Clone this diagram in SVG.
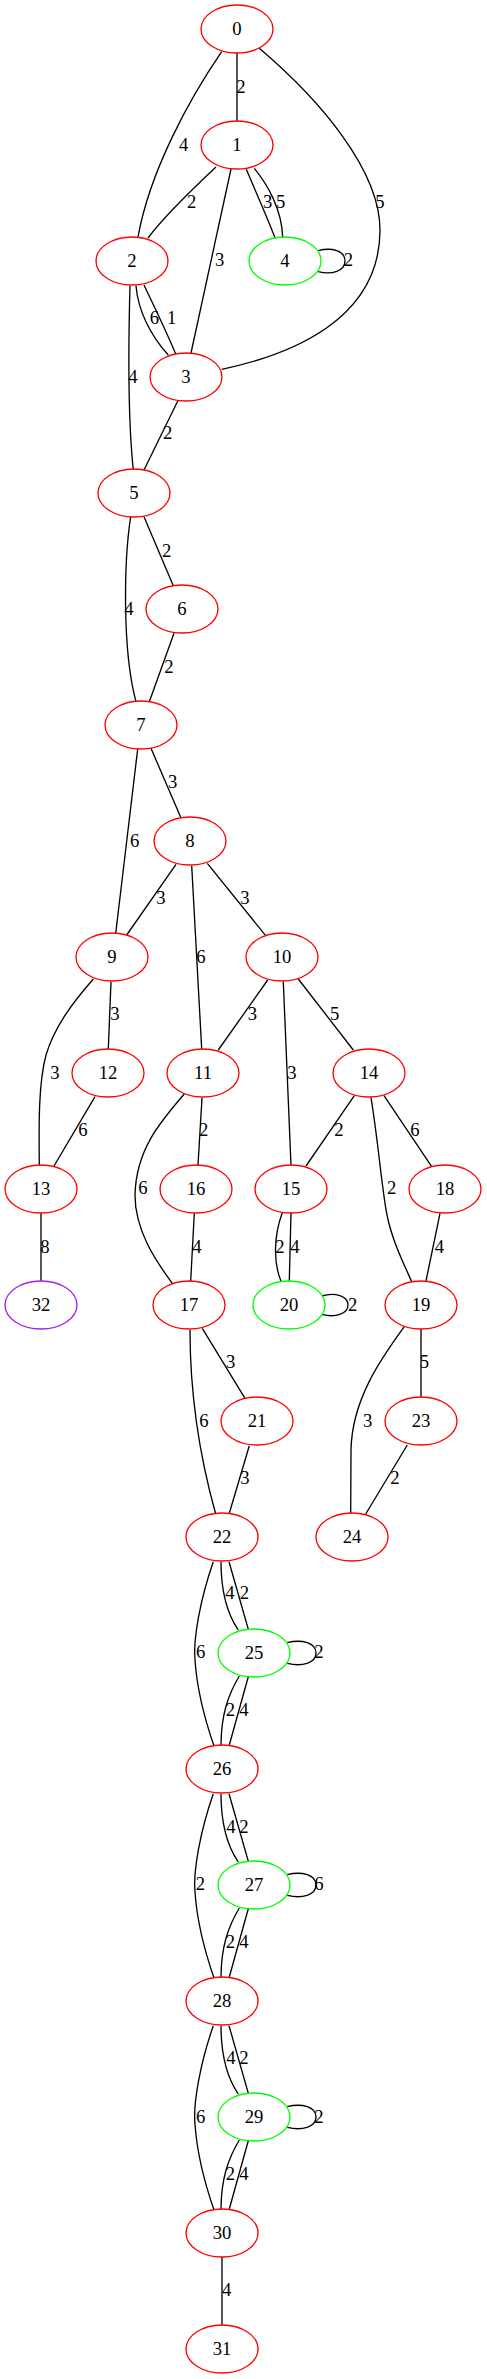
<svg xmlns="http://www.w3.org/2000/svg" width="487" height="2379" viewBox="0 0 487 2379">
<style>
text{font-family:"Liberation Serif","Times New Roman",serif;font-size:18.67px;text-anchor:middle;fill:#000}
.n ellipse{fill:none;stroke:#ff0000;stroke-width:1.33}
.g ellipse{stroke:#00ff00}
.p ellipse{stroke:#a020f0}
#edges path{fill:none;stroke:#000;stroke-width:1.33}
</style>
<rect width="487" height="2379" fill="#fff"/>
<g id="edges">
<path d="M237,53 L237,121"/><text x="241" y="93">2</text>
<path d="M221.7,51.7 C190,98 150,170 138,237"/><text x="183.7" y="151">4</text>
<path d="M259.3,48.3 C320,100 380,170 380,230 C380,320 290,355 221.7,369.3"/><text x="380" y="207.7">5</text>
<path d="M216,167 C200,182 165,215 148,238"/><text x="191.7" y="208">2</text>
<path d="M231,169 L191,353"/><text x="219.7" y="266">3</text>
<path d="M246.3,169.3 C255,190 265,212 275,237.7"/><text x="267.7" y="207.7">3</text>
<path d="M254.3,168.3 C268,185 282,210 282.7,237.7"/><text x="280.7" y="207.7">5</text>
<path d="M318.3,250.7 C332,247 345,251 345,261 C345,271 332,275 318.3,271.7"/><text x="348.3" y="266.3">2</text>
<path d="M136,285.7 C138,310 150,335 168.3,355"/><text x="154.3" y="324.3">6</text>
<path d="M144,285 C152,302 168,335 175.7,354"/><text x="171.7" y="324.3">1</text>
<path d="M130,285.7 C128.5,340 128,420 133.3,469.7"/><text x="133" y="382.7">4</text>
<path d="M178,400.5 L144,470"/><text x="167.7" y="439.3">2</text>
<path d="M130.7,516.7 C124,560 122,650 136,701.7"/><text x="129" y="615">4</text>
<path d="M144,516.7 L173.3,585.7"/><text x="166.7" y="556.7">2</text>
<path d="M174,633.3 L149.3,701.7"/><text x="169" y="672.7">2</text>
<path d="M137.7,749 L115.7,933.3"/><text x="134.7" y="846.7">6</text>
<path d="M151,748.3 L180.7,817.3"/><text x="172.7" y="788.3">3</text>
<path d="M176,864.3 L126.7,935"/><text x="161" y="904">3</text>
<path d="M191.7,865.7 L201.7,1049"/><text x="201" y="962.7">6</text>
<path d="M207.3,863.3 L265.7,935.7"/><text x="245" y="904">3</text>
<path d="M93.3,979 C75,1000 55,1025 46,1055 C38,1085 39,1130 39.3,1165"/><text x="55" y="1078.7">3</text>
<path d="M111,981.7 L108.3,1049"/><text x="115" y="1020">3</text>
<path d="M267.7,980 L218.3,1050"/><text x="252.3" y="1020">3</text>
<path d="M283.3,981.7 L291,1165"/><text x="292" y="1078.7">3</text>
<path d="M298.3,979 L353.3,1050"/><text x="334.7" y="1020">5</text>
<path d="M95,1096.7 L54,1166"/><text x="83" y="1136">6</text>
<path d="M184.3,1094 C160,1122 136,1150 135,1195 C135,1230 155,1260 172.3,1283.3"/><text x="143" y="1194.3">6</text>
<path d="M202,1098 L198,1165"/><text x="203.7" y="1136">2</text>
<path d="M354.3,1095.7 L306,1166"/><text x="339" y="1136">2</text>
<path d="M371,1097.7 C378,1140 382,1190 387,1215 C392,1240 403,1262 411.7,1281.7"/><text x="391.7" y="1194.3">2</text>
<path d="M384,1095.7 L431.7,1166.7"/><text x="415" y="1136">6</text>
<path d="M41,1213.3 L41,1281"/><text x="45" y="1252.7">8</text>
<path d="M194.3,1213.3 L190.7,1281"/><text x="197" y="1252.7">4</text>
<path d="M282.3,1212.7 C274,1235 273,1262 281,1281"/><text x="280" y="1252.7">2</text>
<path d="M291,1212.7 L289.3,1281"/><text x="295" y="1252.7">4</text>
<path d="M321.7,1296 C335,1292 348,1296 348,1305 C348,1314 335,1318 321.7,1314.3"/><text x="352.7" y="1311">2</text>
<path d="M440,1213.3 L426,1281"/><text x="439.3" y="1252.7">4</text>
<path d="M404.3,1326.7 C380,1360 352,1400 351,1450 L350.7,1513.3"/><text x="367.7" y="1426.7">3</text>
<path d="M421,1329 L421,1397"/><text x="424.3" y="1368.3">5</text>
<path d="M407.3,1445 L365.7,1514"/><text x="395" y="1484.3">2</text>
<path d="M202.3,1328.3 L245,1398.3"/><text x="230.7" y="1368.3">3</text>
<path d="M190,1330 C190,1380 195,1440 215.7,1514"/><text x="204" y="1426.7">6</text>
<path d="M249.3,1445.7 L229.3,1513.3"/><text x="245" y="1484.3">3</text>
<path d="M213.3,1561.7 C200,1600 193,1640 195,1660 C197,1690 205,1720 214,1746"/><text x="200.7" y="1658.3">6</text>
<path d="M221,1561.7 C221,1590 226,1612 238.3,1630"/><text x="230" y="1599.3">4</text>
<path d="M229,1561.7 L248.3,1629.3"/><text x="244.3" y="1599.3">2</text>
<path d="M287.3,1642.7 C302,1639 316,1643 316,1653 C316,1663 302,1667 287.3,1663.3"/><text x="319" y="1658.3">2</text>
<path d="M239.3,1676 C228,1695 221,1715 221,1746"/><text x="230.3" y="1716">2</text>
<path d="M248.3,1676.7 L229,1746"/><text x="244" y="1716">4</text>
<path d="M213.3,1793.7 C200,1832 193,1872 195,1892 C197,1922 205,1952 214,1978"/><text x="200.3" y="1890.3">2</text>
<path d="M221,1793.7 C221,1822 226,1844 238.3,1862"/><text x="231" y="1832.7">4</text>
<path d="M229,1793.7 L248.3,1861.3"/><text x="244" y="1832.7">2</text>
<path d="M287.3,1874.7 C302,1871 316,1875 316,1885 C316,1895 302,1899 287.3,1895.3"/><text x="319" y="1890.3">6</text>
<path d="M239.3,1908 C228,1927 221,1947 221,1978"/><text x="230.3" y="1948">2</text>
<path d="M248.3,1908.7 L229,1978"/><text x="244" y="1948">4</text>
<path d="M213.3,2025.7 C200,2064 193,2104 195,2124 C197,2154 205,2184 214,2210"/><text x="200.7" y="2122.7">6</text>
<path d="M221,2025.7 C221,2054 226,2076 238.3,2094"/><text x="231" y="2064.3">4</text>
<path d="M229,2025.7 L248.3,2093.3"/><text x="244" y="2064.3">2</text>
<path d="M287.3,2106.7 C302,2103 316,2107 316,2117 C316,2127 302,2131 287.3,2127.3"/><text x="319" y="2122.7">2</text>
<path d="M239.3,2140 C228,2159 221,2179 221,2210"/><text x="230.3" y="2180">2</text>
<path d="M248.3,2140.7 L229,2210"/><text x="244" y="2180">4</text>
<path d="M222,2257 L222,2325"/><text x="226.7" y="2296">4</text>
</g>
<g id="node0" class="n"><ellipse cx="237" cy="29" rx="36" ry="24"/><text x="237" y="35">0</text></g>
<g id="node1" class="n"><ellipse cx="237" cy="145" rx="36" ry="24"/><text x="237" y="151">1</text></g>
<g id="node2" class="n"><ellipse cx="132" cy="261" rx="36" ry="24"/><text x="132" y="267">2</text></g>
<g id="node3" class="n"><ellipse cx="186" cy="377" rx="36" ry="24"/><text x="186" y="383">3</text></g>
<g id="node4" class="n g"><ellipse cx="285" cy="261" rx="36" ry="24"/><text x="285" y="267">4</text></g>
<g id="node5" class="n"><ellipse cx="134" cy="493" rx="36" ry="24"/><text x="134" y="499">5</text></g>
<g id="node6" class="n"><ellipse cx="182" cy="609" rx="36" ry="24"/><text x="182" y="615">6</text></g>
<g id="node7" class="n"><ellipse cx="141" cy="725" rx="36" ry="24"/><text x="141" y="731">7</text></g>
<g id="node8" class="n"><ellipse cx="190" cy="841" rx="36" ry="24"/><text x="190" y="847">8</text></g>
<g id="node9" class="n"><ellipse cx="112" cy="957" rx="36" ry="24"/><text x="112" y="963">9</text></g>
<g id="node10" class="n"><ellipse cx="282" cy="957" rx="36" ry="24"/><text x="282" y="963">10</text></g>
<g id="node11" class="n"><ellipse cx="203" cy="1073" rx="36" ry="24"/><text x="203" y="1079">11</text></g>
<g id="node12" class="n"><ellipse cx="108" cy="1073" rx="36" ry="24"/><text x="108" y="1079">12</text></g>
<g id="node13" class="n"><ellipse cx="41" cy="1189" rx="36" ry="24"/><text x="41" y="1195">13</text></g>
<g id="node14" class="n"><ellipse cx="369" cy="1073" rx="36" ry="24"/><text x="369" y="1079">14</text></g>
<g id="node15" class="n"><ellipse cx="291" cy="1189" rx="36" ry="24"/><text x="291" y="1195">15</text></g>
<g id="node16" class="n"><ellipse cx="196" cy="1189" rx="36" ry="24"/><text x="196" y="1195">16</text></g>
<g id="node17" class="n"><ellipse cx="189" cy="1305" rx="36" ry="24"/><text x="189" y="1311">17</text></g>
<g id="node18" class="n"><ellipse cx="445" cy="1189" rx="36" ry="24"/><text x="445" y="1195">18</text></g>
<g id="node19" class="n"><ellipse cx="421" cy="1305" rx="36" ry="24"/><text x="421" y="1311">19</text></g>
<g id="node20" class="n g"><ellipse cx="289" cy="1305" rx="36" ry="24"/><text x="289" y="1311">20</text></g>
<g id="node21" class="n"><ellipse cx="257" cy="1421" rx="36" ry="24"/><text x="257" y="1427">21</text></g>
<g id="node22" class="n"><ellipse cx="222" cy="1537" rx="36" ry="24"/><text x="222" y="1543">22</text></g>
<g id="node23" class="n"><ellipse cx="421" cy="1421" rx="36" ry="24"/><text x="421" y="1427">23</text></g>
<g id="node24" class="n"><ellipse cx="352" cy="1537" rx="36" ry="24"/><text x="352" y="1543">24</text></g>
<g id="node25" class="n g"><ellipse cx="254" cy="1653" rx="36" ry="24"/><text x="254" y="1659">25</text></g>
<g id="node26" class="n"><ellipse cx="222" cy="1769" rx="36" ry="24"/><text x="222" y="1775">26</text></g>
<g id="node27" class="n g"><ellipse cx="254" cy="1885" rx="36" ry="24"/><text x="254" y="1891">27</text></g>
<g id="node28" class="n"><ellipse cx="222" cy="2001" rx="36" ry="24"/><text x="222" y="2007">28</text></g>
<g id="node29" class="n g"><ellipse cx="254" cy="2117" rx="36" ry="24"/><text x="254" y="2123">29</text></g>
<g id="node30" class="n"><ellipse cx="222" cy="2233" rx="36" ry="24"/><text x="222" y="2239">30</text></g>
<g id="node31" class="n"><ellipse cx="222" cy="2349" rx="36" ry="24"/><text x="222" y="2355">31</text></g>
<g id="node32" class="n p"><ellipse cx="41" cy="1305" rx="36" ry="24"/><text x="41" y="1311">32</text></g>
</svg>
